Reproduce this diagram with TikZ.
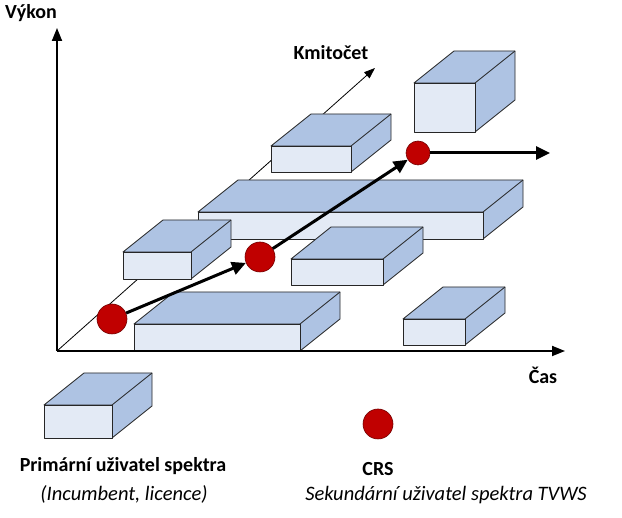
\documentclass[tikz,border=0pt]{standalone}
\usepackage{fontspec}
\setmainfont{Carlito}
\usetikzlibrary{arrows.meta}
\definecolor{facelight}{HTML}{E3EAF5}
\definecolor{facedark}{HTML}{AEC3E3}
\definecolor{crsred}{HTML}{C00000}

% box in pseudo 3D: x, y (top left of front face), width, height
\newcommand{\kvadr}[4]{%
  \draw[boxedge, fill=facedark] (#1,#2) -- ({#1+40},{#2-32}) -- ({#1+#3+40},{#2-32})
    -- ({#1+#3+40},{#2+#4-32}) -- ({#1+#3},{#2+#4}) -- ({#1+#3},#2) -- cycle;
  \draw[boxedge] ({#1+#3},#2) -- ({#1+#3+40},{#2-32});
  \draw[boxedge, fill=facelight] (#1,#2) rectangle ({#1+#3},{#2+#4});
}

\begin{document}
\begin{tikzpicture}[x=1pt, y=-1pt,
    boxedge/.style={draw=black!85, line width=0.8pt, line join=round},
    axis/.style={line width=1.8pt, -{Triangle[length=13pt,width=10pt]}},
    crs/.style={circle, fill=crsred, draw=crsred!60!black, line width=0.6pt, minimum size=30pt, inner sep=0pt},
    tok/.style={line width=3pt, -{Triangle[length=14pt,width=13pt]}},
    lab/.style={font=\fontsize{20}{24}\selectfont\bfseries},
    note/.style={font=\fontsize{20.5}{24}\selectfont\itshape}]
  \useasboundingbox (0,0) rectangle (622,518);

  \coordinate (O) at (57,351);
  \coordinate (vkonec) at (57,28);
  \coordinate (ckonec) at (565,351);
  \coordinate (kkonec) at (375,68);

  \draw[line width=0.8pt, -{Triangle[length=11pt,width=8pt]}] (O) -- (kkonec);

  \kvadr{414}{83}{61}{49}
  \kvadr{271}{146}{80}{26}
  \kvadr{198}{212}{285}{27}
  \kvadr{123}{252}{68}{27}
  \kvadr{291}{259}{92}{26}
  \kvadr{134}{324}{166}{27}
  \kvadr{403}{319}{62}{26}

  \draw[axis] (O) -- (vkonec);
  \draw[axis] (O) -- (ckonec);

  \node[lab] (vykon) at (31,13) {Výkon};
  \node[lab] (cas) at (543,375) {Čas};
  \node[lab] (kmitocet) at (331,53) {Kmitočet};

  \node[crs] (c1) at (112,319) {};
  \node[crs] (c2) at (260,257) {};
  \node[crs, minimum size=24pt] (c3) at (418,153) {};
  \coordinate (dal) at (550,153);

  \draw[tok] (c1) -- (c2);
  \draw[tok] (c2) -- (c3);
  \draw[tok] (c3) -- (dal);

  % legenda
  \kvadr{44}{405}{68}{33}
  \node[lab] (primarni) at (123,466) {Primární uživatel spektra};
  \node[note] (incumbent) at (124,494) {(Incumbent, licence)};

  \node[crs] (crsleg) at (378,424) {};
  \node[lab] (crs) at (378,469) {CRS};
  \node[note] (sekundarni) at (446,495) {Sekundární uživatel spektra TVWS};
\end{tikzpicture}
\end{document}
